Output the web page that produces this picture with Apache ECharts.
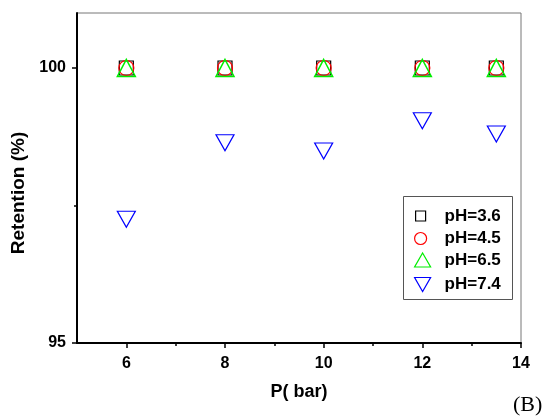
<!DOCTYPE html>
<html>
<head>
<meta charset="utf-8">
<script src="https://cdn.jsdelivr.net/npm/echarts@6/dist/echarts.min.js"></script>
<style>
html,body{margin:0;padding:0;background:#fff;}
#chart{width:545px;height:416px;}
</style>
</head>
<body>
<div id="chart"></div>
<script>
// Data
var pressure = [6, 8, 10, 12, 13.5];
var ph36 = [100, 100, 100, 100, 100];
var ph45 = [100, 100, 100, 100, 100];
var ph65 = [100, 100, 100, 100, 100];
var ph74 = [97.25, 98.64, 98.49, 99.04, 98.80];
var seriesNames = ['pH=3.6', 'pH=4.5', 'pH=6.5', 'pH=7.4'];
var xTicks = [6, 8, 10, 12, 14];
var xMinorTicks = [7, 9, 11, 13];
var yTicks = [95, 100];
var yMinorTicks = [97.5];

function pts(vals) {
  return pressure.map(function (p, i) { return [p, vals[i]]; });
}

var FONT = 'Liberation Sans, Arial, sans-serif';
var chart = echarts.init(document.getElementById('chart'), null, {renderer: 'canvas'});

function legendFor(item, top, iw, ih, keep, cx) {
  var left = cx - iw / 2;
  return {
    data: [item],
    left: left,
    top: top,
    orient: 'vertical',
    padding: 0,
    itemWidth: iw,
    itemHeight: ih,
    symbolKeepAspect: keep,
    itemStyle: {borderWidth: 1.2},
    textStyle: {
      fontFamily: FONT, fontWeight: 'bold', fontSize: 17, color: '#000',
      lineHeight: 16,
      padding: [0, 0, 0, 444 - left - iw - 5]
    }
  };
}

var option = {
  backgroundColor: '#fff',
  animation: false,
  grid: {
    left: 77, right: 24, top: 13, bottom: 73,
    show: true, borderColor: '#777', borderWidth: 1, backgroundColor: 'transparent'
  },
  xAxis: [{
    type: 'value', min: 5, max: 14,
    name: 'P( bar)', nameLocation: 'middle', nameGap: 40,
    nameTextStyle: {fontFamily: FONT, fontWeight: 'bold', fontSize: 18, color: '#000'},
    axisLine: {show: true, onZero: false, lineStyle: {color: '#000', width: 2}},
    axisTick: {show: true, inside: false, length: 5, lineStyle: {color: '#000', width: 1.5}, customValues: xTicks},
    axisLabel: {customValues: xTicks, margin: 13, fontFamily: FONT, fontWeight: 'bold', fontSize: 16, color: '#000'},
    splitLine: {show: false}
  }, {
    type: 'value', min: 5, max: 14, position: 'bottom',
    axisLine: {show: false},
    axisTick: {show: true, length: 3, lineStyle: {color: '#000', width: 1.5}, customValues: xMinorTicks},
    axisLabel: {show: false},
    splitLine: {show: false}
  }],
  yAxis: [{
    type: 'value', min: 95, max: 101,
    name: 'Retention (%)', nameLocation: 'middle', nameGap: 39,
    nameTextStyle: {fontFamily: FONT, fontWeight: 'bold', fontSize: 19, color: '#000', padding: [0, 30, 0, 0]},
    axisLine: {show: true, onZero: false, lineStyle: {color: '#000', width: 2}},
    axisTick: {show: true, length: 5, lineStyle: {color: '#000', width: 1.5}, customValues: yTicks},
    axisLabel: {customValues: yTicks, margin: 11, fontFamily: FONT, fontWeight: 'bold', fontSize: 16, color: '#000'},
    splitLine: {show: false}
  }, {
    type: 'value', min: 95, max: 101, position: 'left',
    axisLine: {show: false},
    axisTick: {show: true, length: 3, lineStyle: {color: '#000', width: 1.5}, customValues: yMinorTicks},
    axisLabel: {show: false},
    splitLine: {show: false}
  }],
  legend: [
    legendFor({name: seriesNames[0]}, 207.5, 10, 10, true, 420),
    legendFor({name: seriesNames[1]}, 230, 12, 12, true, 420),
    legendFor({name: seriesNames[2]}, 251.5, 16, 14, false, 422),
    legendFor({name: seriesNames[3], icon: 'path://M0,0L16,0L8,14Z'}, 276, 16, 14, false, 422)
  ],
  graphic: [{
    type: 'rect', z: 1,
    shape: {x: 403.5, y: 196.5, width: 109, height: 103},
    style: {fill: '#fff', stroke: '#555', lineWidth: 1}
  }, {
    type: 'text', left: 513, top: 394, z: 1,
    style: {text: '(B)', font: '22px "Liberation Serif", "Times New Roman", serif', fill: '#000'}
  }],
  series: [{
    name: seriesNames[0], type: 'scatter', data: pts(ph36),
    symbol: 'rect', symbolSize: 14,
    itemStyle: {color: 'transparent', borderColor: '#000', borderWidth: 1.2, opacity: 1}
  }, {
    name: seriesNames[1], type: 'scatter', data: pts(ph45),
    symbol: 'circle', symbolSize: 15,
    itemStyle: {color: 'transparent', borderColor: '#ff0000', borderWidth: 1.2, opacity: 1}
  }, {
    name: seriesNames[2], type: 'scatter', data: pts(ph65),
    symbol: 'triangle', symbolSize: [18, 17],
    itemStyle: {color: 'transparent', borderColor: '#00ee00', borderWidth: 1.5, opacity: 1}
  }, {
    name: seriesNames[3], type: 'scatter', data: pts(ph74),
    symbol: 'triangle', symbolRotate: 180, symbolSize: [18, 16],
    itemStyle: {color: 'transparent', borderColor: '#0000ff', borderWidth: 1.2, opacity: 1}
  }]
};
chart.setOption(option);
</script>
</body>
</html>
